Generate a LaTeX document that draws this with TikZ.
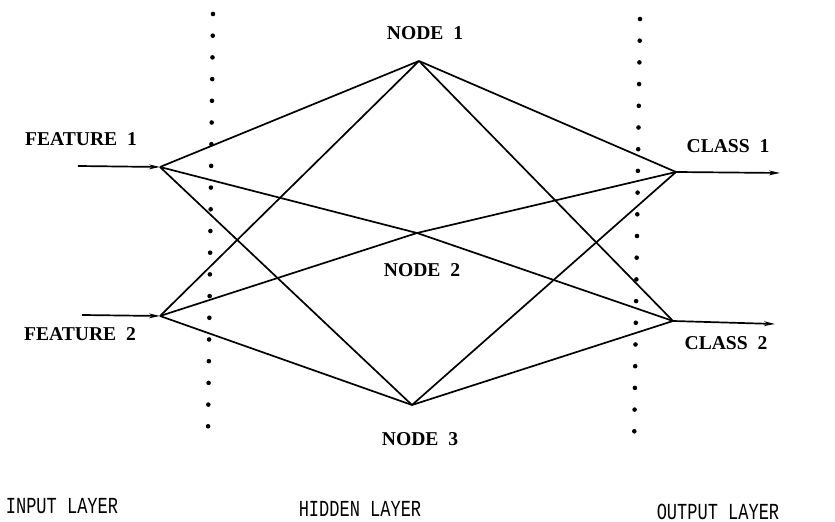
\documentclass[tikz,border=0pt]{standalone}
\usepackage{fontspec}
\setmainfont{Liberation Serif}
\setmonofont{Liberation Mono}
\usetikzlibrary{arrows.meta, positioning}

\begin{document}
\begin{tikzpicture}[x=0.5pt, y=-0.5pt,
        link/.style={line width=0.85pt},
        feed/.style={line width=0.85pt, -{Stealth[length=5.5pt, width=2.4pt]}},
        lbl/.style={font=\fontsize{9.8}{11}\selectfont\bfseries},
        layer/.style={font=\fontsize{8.5}{10}\selectfont\ttfamily}]
        \useasboundingbox (0,0) rectangle (835,522);

        % --- UNITS ---
        \coordinate (F1) at (160,167);
        \coordinate (F2) at (160,316);
        \coordinate (H1) at (419,61);
        \coordinate (H2) at (417,233);
        \coordinate (H3) at (412,405);
        \coordinate (C1) at (676,172);
        \coordinate (C2) at (673,321);

        % --- FREE ENDS OF ARROWS ---
        \coordinate (In1) at (78,166);
        \coordinate (In2) at (82,315);
        \coordinate (Out1) at (780,173);
        \coordinate (Out2) at (775,324);

        % --- DOTTED LAYER BORDERS ---
        \foreach \i in {0,...,19} {
            \fill ({213-0.26*\i}, {14+21.7*\i}) circle (2.3);
            \fill ({640-0.3*\i}, {19+21.7*\i}) circle (2.3);
        }

        % --- WEIGHTS ---
        \foreach \a in {F1,F2}
            \foreach \b in {H1,H2,H3}
                \draw[link] (\a) -- (\b);
        \foreach \a in {H1,H2,H3}
            \foreach \b in {C1,C2}
                \draw[link] (\a) -- (\b);

        % --- INPUTS / OUTPUTS ---
        \draw[feed] (In1) -- (F1);
        \draw[feed] (In2) -- (F2);
        \draw[feed] (C1) -- (Out1);
        \draw[feed] (C2) -- (Out2);

        % --- LABELS ---
        \node[lbl] (feat1) at (81,139) {FEATURE\ \ 1};
        \node[lbl] (feat2) at (80,334) {FEATURE\ \ 2};
        \node[lbl] (class1) at (728,146) {CLASS\ \ 1};
        \node[lbl] (class2) at (726,343) {CLASS\ \ 2};
        \node[lbl] (node1) at (425,33) {NODE\ \ 1};
        \node[lbl] (node2) at (422,270) {NODE\ \ 2};
        \node[lbl] (node3) at (420,439) {NODE\ \ 3};

        \node[layer] (inlayer) at (62,506) {\scalebox{1}[1.35]{INPUT LAYER}};
        \node[layer] (hidlayer) at (360,509) {\scalebox{1}[1.35]{HIDDEN LAYER}};
        \node[layer] (outlayer) at (718,512) {\scalebox{1}[1.35]{OUTPUT LAYER}};

\end{tikzpicture}
\end{document}
